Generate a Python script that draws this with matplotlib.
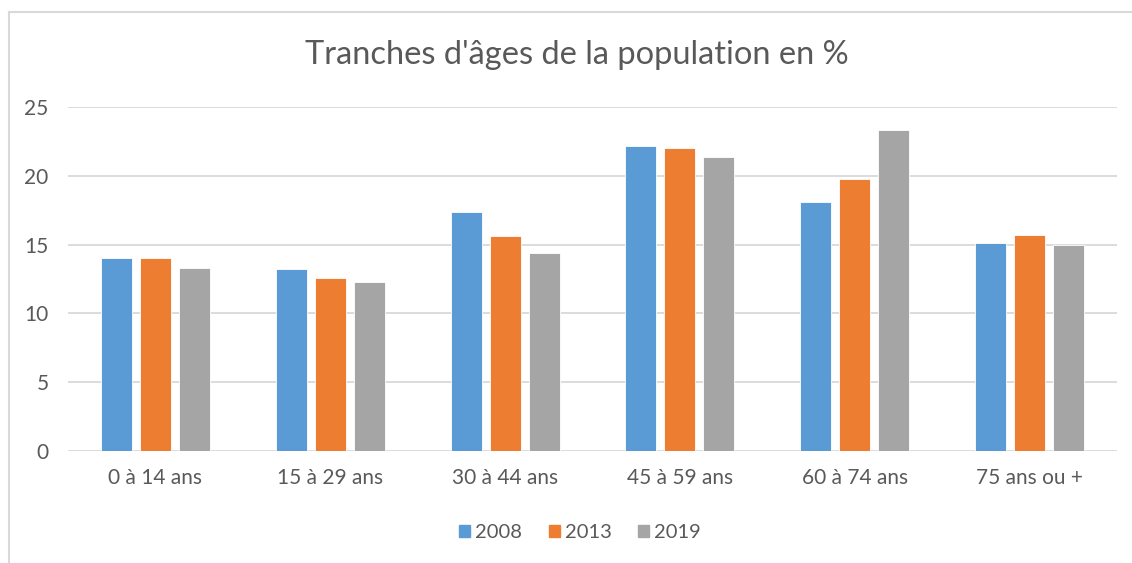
import numpy as np
import matplotlib.pyplot as plt
from matplotlib.patches import Rectangle
from matplotlib.lines import Line2D

categories = ["0 à 14 ans", "15 à 29 ans", "30 à 44 ans", "45 à 59 ans", "60 à 74 ans", "75 ans ou +"]
years = ["2008", "2013", "2019"]
v2008 = [14.0, 13.2, 17.4, 22.2, 18.1, 15.1]
v2013 = [14.0, 12.6, 15.6, 22.0, 19.8, 15.7]
v2019 = [13.3, 12.3, 14.4, 21.4, 23.3, 15.0]
yticks = [0, 5, 10, 15, 20, 25]

colors = ["#5B9BD5", "#ED7D31", "#A5A5A5"]
txt = "#595959"
grid = "#D9D9D9"

plt.rcParams['font.family'] = ['Lato', 'DejaVu Sans']

fig = plt.figure(figsize=(11.32, 5.63), dpi=100)
ax = fig.add_axes([68 / 1132, 112 / 563, 1049 / 1132, 344 / 563])

x = np.arange(len(categories))
width = 0.178
step = 0.223
for i, (vals, col, lab) in enumerate(zip([v2008, v2013, v2019], colors, years)):
    ax.bar(x + (i - 1) * step, vals, width, color=col, label=lab,
           edgecolor="white", linewidth=0.6, zorder=3)

ax.set_xlim(-0.5, len(categories) - 0.5)
ax.set_ylim(0, 25)
ax.set_yticks(yticks)
ax.set_xticks(x)
ax.set_xticklabels(categories)
ax.yaxis.grid(True, color=grid, linewidth=1.3, zorder=0)
for s in ax.spines.values():
    s.set_visible(False)
ax.tick_params(axis="both", length=0, colors=txt, labelsize=15)
ax.tick_params(axis="y", pad=14)
ax.tick_params(axis="x", pad=12)

fig.text(577 / 1132, 1 - 55 / 563, "Tranches d'âges de la population en %",
         ha="center", va="center", fontsize=23.5, color=txt)

handles = [Rectangle((0, 0), 1, 1, color=c) for c in colors]
fig.legend(handles, years, loc="center", bbox_to_anchor=(580 / 1132, 1 - 533 / 563),
           ncol=3, frameon=False, fontsize=14.5, labelcolor=txt,
           handlelength=0.55, handleheight=0.55, handletextpad=0.25, columnspacing=1.3)

# chart border (left and top only visible)
fig.add_artist(Line2D([8.5 / 1132, 8.5 / 1132], [0, 1 - 11.5 / 563], color=grid, lw=1.5))
fig.add_artist(Line2D([8.5 / 1132, 1], [1 - 11.5 / 563, 1 - 11.5 / 563], color=grid, lw=1.5))

fig.savefig("out.png", dpi=100)
